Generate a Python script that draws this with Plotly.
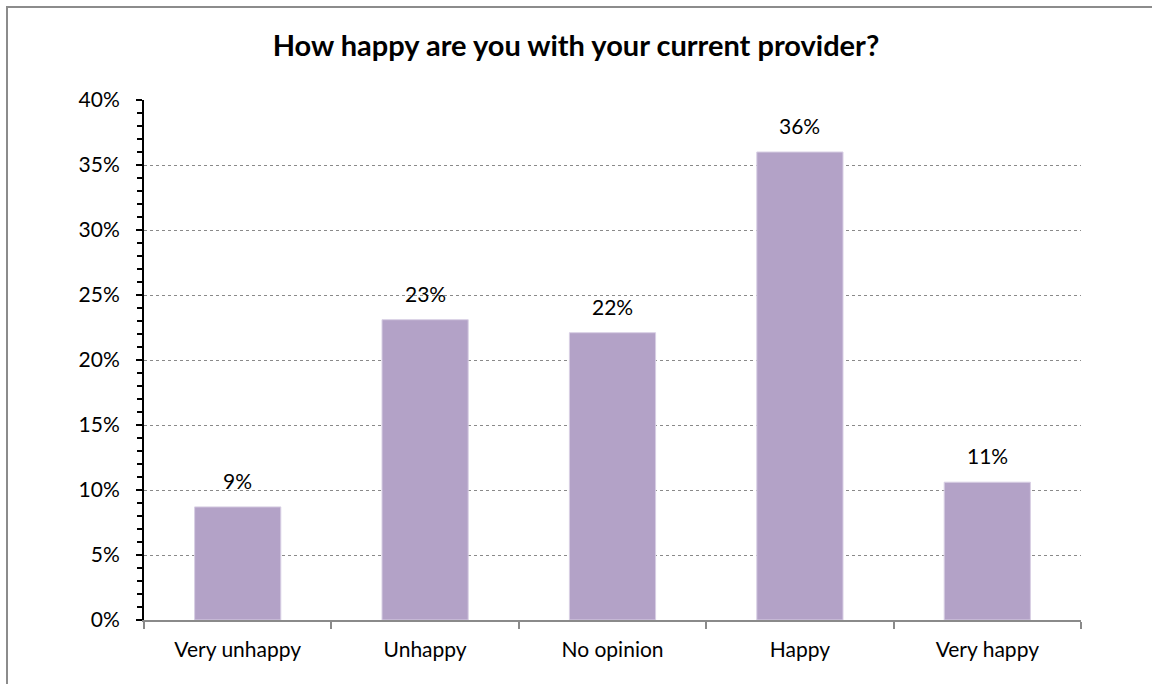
import plotly.graph_objects as go

# Survey responses: share of respondents per satisfaction level
categories = ["Very unhappy", "Unhappy", "No opinion", "Happy", "Very happy"]
shares = [0.087, 0.231, 0.221, 0.360, 0.106]
y_ticks = [0, 0.05, 0.10, 0.15, 0.20, 0.25, 0.30, 0.35, 0.40]
y_tick_labels = ["0%", "5%", "10%", "15%", "20%", "25%", "30%", "35%", "40%"]

W, H = 1152, 684
ML, MR, MT, MB = 144, 71, 100, 64
FONT = "Lato, 'Open Sans', sans-serif"
GRID = "#8A8A8A"
FS = 21

fig = go.Figure()
fig.add_trace(go.Bar(
    x=categories,
    y=shares,
    marker=dict(color="#B3A2C7", line=dict(color="#D8CFE4", width=1)),
    width=0.46,
    hoverinfo="skip",
))

# value labels above each bar, derived from the same values
for c, v in zip(categories, shares):
    fig.add_annotation(
        x=c, y=v, text=f"{v:.0%}", showarrow=False,
        yanchor="bottom", yshift=12,
        font=dict(family=FONT, size=FS, color="#000000"),
    )

# chart frame
pw, ph = W - ML - MR, H - MT - MB
fig.add_shape(
    type="rect", xref="paper", yref="paper",
    x0=(7 - ML) / pw, x1=(W + 10 - ML) / pw,
    y0=-(H + 10 - MT - ph) / ph, y1=(H - 7 - MB) / ph,
    line=dict(color="#8C8C8C", width=2), layer="below",
)

fig.update_layout(
    width=W, height=H,
    margin=dict(l=ML, r=MR, t=MT, b=MB),
    paper_bgcolor="white", plot_bgcolor="white",
    showlegend=False,
    title=dict(
        text="<b>How happy are you with your current provider?</b>",
        x=0.5, xref="container", xanchor="center",
        y=1 - 46 / H, yanchor="middle",
        font=dict(family=FONT, size=29, color="#000000"),
    ),
    font=dict(family=FONT, size=FS, color="#000000"),
)

fig.update_yaxes(
    range=[0, 0.40],
    tickvals=y_ticks, ticktext=y_tick_labels,
    showline=True, linecolor="#000000", linewidth=2,
    ticks="outside", ticklen=6, tickwidth=2, tickcolor="#000000",
    ticklabelstandoff=12,
    showgrid=True, gridcolor=GRID, griddash="dot", gridwidth=1,
    zeroline=False,
    minor=dict(dtick=0.01, ticks="outside", ticklen=5, tickwidth=2,
               tickcolor="#000000", showgrid=False),
    tickfont=dict(family=FONT, size=FS, color="#000000"),
)

fig.update_xaxes(
    showline=True, linecolor=GRID, linewidth=2,
    ticks="outside", tickson="boundaries", ticklen=7, tickwidth=2, tickcolor=GRID,
    showgrid=False,
    ticklabelstandoff=10,
    tickfont=dict(family=FONT, size=FS, color="#000000"),
)

fig.write_html("out.html")
